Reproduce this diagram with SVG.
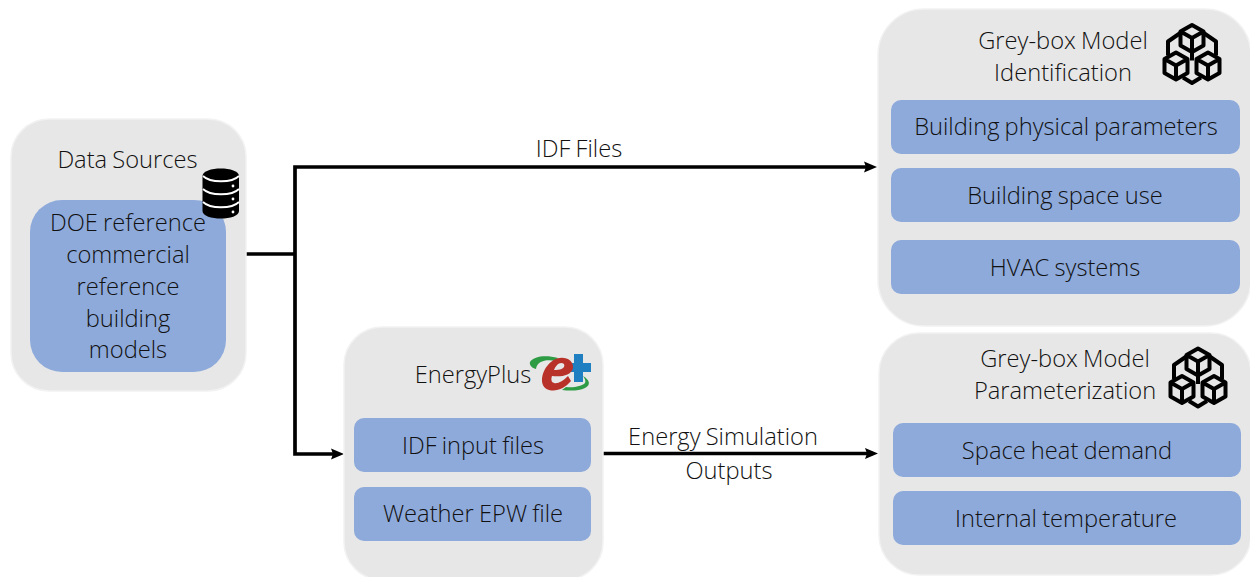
<svg xmlns="http://www.w3.org/2000/svg" width="1250" height="577" viewBox="0 0 1250 577">
<style>
.panel{fill:#e7e7e7;stroke:#f2f2f2;stroke-width:1.5}
.box{fill:#8eaadb}
text{font-family:"Open Sans","Noto Sans","Liberation Sans",sans-serif;font-size:23.7px;font-weight:300;word-spacing:-1px;fill:#111;text-anchor:middle}
.conn{fill:none;stroke:#000;stroke-width:3.7}
.ic{fill:none;stroke:#000;stroke-width:4;stroke-linejoin:round}
.sep{fill:none;stroke:#fff;stroke-width:1.8}
</style>
<defs>
<marker id="arrow" markerUnits="userSpaceOnUse" markerWidth="14" markerHeight="12" refX="8" refY="6" orient="auto"><path d="M0,0.5L13,6L0,11.500L2,6z" fill="#000"/></marker>
<g id="cubes" class="ic">
<path id="c1" d="M0,-13.500L11.500,-7V7L0,13.500L-11.500,7V-7ZM-11.500,-7L0,-0.500L11.500,-7M0,-0.500V13.500"/>
<use href="#c1" x="-16" y="27.500"/>
<use href="#c1" x="16" y="27.500"/>
<path d="M-11,-6L-24,3V17M11,-6L24,3V17M0,14V22M-9,39L0,44.500L9,39"/>
</g>
</defs>
<g id="connectors">
<path class="conn" d="M245,254H295"/>
<path class="conn" d="M295,254V167H872" marker-end="url(#arrow)"/>
<path class="conn" d="M295,254V454H339" marker-end="url(#arrow)"/>
<path class="conn" d="M603,453.500H873" marker-end="url(#arrow)"/>
</g>
<g id="label-idf"><text x="579" y="156.500">IDF Files</text></g>
<g id="label-sim"><text x="723" y="445">Energy Simulation</text><text x="729" y="479">Outputs</text></g>
<g id="data-sources">
<rect class="panel" x="11" y="119" width="235" height="272" rx="38"/>
<text x="127.500" y="168">Data Sources</text>
<rect class="box" x="30" y="200" width="196" height="172" rx="32"/>
<text x="128" y="231">DOE reference</text>
<text x="128" y="263">commercial</text>
<text x="128" y="295">reference</text>
<text x="128" y="327">building</text>
<text x="128" y="358">models</text>
<g id="db-icon">
<path d="M202.500,176C202.500,166 239,166 239,176V211C239,221 202.500,221 202.500,211Z" fill="#000"/>
<path class="sep" d="M203,176C210,183 232,183 239,176M203,189C210,196 232,196 239,189M203,202C210,209 232,209 239,202"/>
<circle cx="233" cy="186" r="1.400" fill="#fff"/><circle cx="233" cy="199" r="1.400" fill="#fff"/><circle cx="233" cy="212" r="1.400" fill="#fff"/>
</g>
</g>
<g id="energyplus">
<rect class="panel" x="344" y="327" width="259" height="253" rx="38"/>
<text x="473" y="383">EnergyPlus</text>
<g id="ep-logo">
<path d="M530,362C534,356 546,355 558,358L556,361C546,359 537,361 536,369C532,368 529,365 530,362Z" fill="#2e9b45"/>
<path d="M583,376C590,380 591,385 585,388C579,391 570,391 562,390L566,387C574,388 582,386 585,383C586,381 585,379 583,376Z" fill="#2e9b45"/>
<path d="M574,354H583V363H591V372H583V382H574V372H566V363H574Z" fill="#1f7fc1"/>
<path d="M573,368C574,358 560,354 551,362C541,370 538,387 549,390C557,392 565,388 571,381L568,376C563,381 558,384 554,383C551,382 551,379 552,376C561,377 571,376 573,368ZM564,364C560,361 556,365 554,370C559,370 566,369 564,364Z" fill="#b8322a" fill-rule="evenodd"/>
</g>
<rect class="box" x="354" y="418" width="237" height="54" rx="10"/>
<text x="473" y="454">IDF input files</text>
<rect class="box" x="354" y="487" width="237" height="54" rx="10"/>
<text x="473" y="522">Weather EPW file</text>
</g>
<g id="identification">
<rect class="panel" x="878" y="9" width="373" height="317" rx="46"/>
<text x="1063" y="49">Grey-box Model</text>
<text x="1063" y="81">Identification</text>
<use href="#cubes" x="1192" y="38.500"/>
<rect class="box" x="891" y="100" width="349" height="54" rx="10"/>
<text x="1066" y="135">Building physical parameters</text>
<rect class="box" x="891" y="168" width="349" height="54" rx="10"/>
<text x="1065" y="204">Building space use</text>
<rect class="box" x="891" y="240" width="349" height="54" rx="10"/>
<text x="1065" y="276">HVAC systems</text>
</g>
<g id="parameterization">
<rect class="panel" x="879" y="333" width="372" height="242" rx="40"/>
<text x="1065" y="367">Grey-box Model</text>
<text x="1065" y="399">Parameterization</text>
<use href="#cubes" x="1198" y="362"/>
<rect class="box" x="893" y="423" width="348" height="54" rx="10"/>
<text x="1067" y="459">Space heat demand</text>
<rect class="box" x="893" y="491" width="348" height="54" rx="10"/>
<text x="1066" y="527">Internal temperature</text>
</g>
</svg>
